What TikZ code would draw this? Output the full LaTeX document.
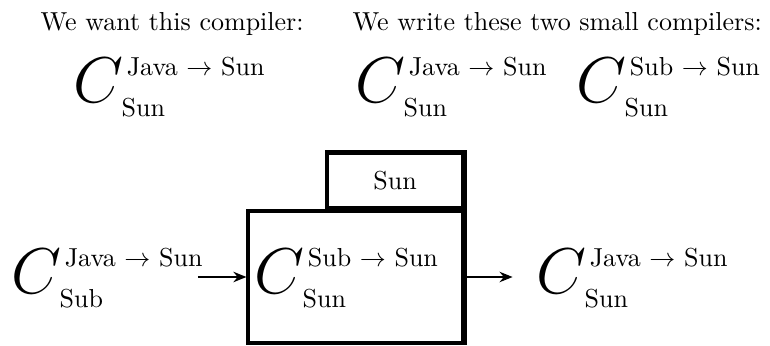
\documentclass[tikz,border=0pt]{standalone}
\usetikzlibrary{positioning, arrows.meta}
\newcommand{\compiler}[3]{\mbox{\fontsize{28}{30}\selectfont$C$}\kern-0.7pt\raisebox{-5.5pt}{\begin{tabular}[b]{@{}l@{}}\kern2pt#1 $\rightarrow$ #2\\[3.7pt]#3\end{tabular}}}

\begin{document}
\begin{tikzpicture}[x=0.3846pt, y=-0.3846pt,
  title/.style={anchor=base west, inner sep=0pt},
  comp/.style={anchor=base west, inner sep=0pt},
  box/.style={draw, line width=1.2pt, inner sep=0pt},
  rim/.style={line width=1.7pt},
  arrow/.style={-{Stealth[length=5pt, width=4pt]}, line width=1pt}
]
  \useasboundingbox (0,0) rectangle (770,345);
  % the compiler we want and the two we write
  \node[title] (want) at (40,31) {We want this compiler:};
  \node[title] (have) at (352,31) {We write these two small compilers:};
  \node[comp] (goal) at (73,102) {\compiler{Java}{Sun}{Sun}};
  \node[comp] (first) at (355,102) {\compiler{Java}{Sun}{Sun}};
  \node[comp] (second) at (576,102) {\compiler{Sub}{Sun}{Sun}};
  % running the first one through the second
  \node[box, minimum width=82.7pt, minimum height=50.8pt] (host) at (355.5,277) {};
  \node[box, minimum width=52.3pt, minimum height=20.8pt,
        above left=0pt and 0pt of host.north east] (target) {Sun};
  \draw[rim] (target.north west) -- (target.north east) -- (host.south east);
  \node[comp] (src) at (11,293) {\compiler{Java}{Sun}{Sub}};
  \node[comp] (inner) at (254,293) {\compiler{Sub}{Sun}{Sun}};
  \node[comp] (dst) at (536,293) {\compiler{Java}{Sun}{Sun}};
  \draw[arrow] ([xshift=-2pt]src.east |- host.west) -- (host.west);
  \draw[arrow] (host.east) -- ([xshift=-9pt]dst.west |- host.east);
\end{tikzpicture}
\end{document}
